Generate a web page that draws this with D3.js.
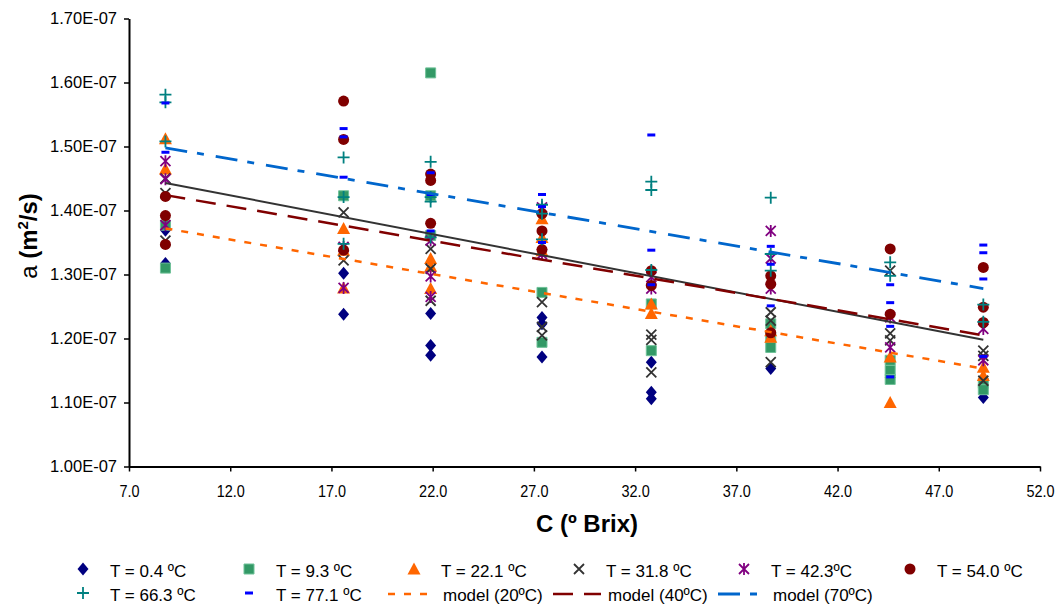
<!DOCTYPE html>
<html>
<head>
<meta charset="utf-8">
<script src="https://cdn.jsdelivr.net/npm/d3@7"></script>
<style>
  body { margin: 0; background: #fff; }
  text { font-family: "Liberation Sans", Arial, sans-serif; fill: #000; }
</style>
</head>
<body>
<div id="chart"></div>
<script>
// concentrations (ºBrix) of the measured columns
const brix = [8.8, 17.6, 21.9, 27.4, 32.8, 38.7, 44.6, 49.2];

// thermal diffusivity readings, in 1e-7 m2/s, one list per column
const t04 = [[1.369, 1.317], [1.302, 1.238], [1.239, 1.189, 1.174], [1.233, 1.223, 1.171],
  [1.163, 1.116, 1.106], [1.153], [1.139], [1.108]];
const t93 = [[1.377, 1.310], [1.423], [1.615, 1.423, 1.361], [1.272, 1.194],
  [1.254, 1.181], [1.223, 1.202, 1.186], [1.166, 1.150, 1.136], [1.130, 1.120]];
const t221 = [[1.512, 1.465], [1.372, 1.338, 1.279], [1.325, 1.313, 1.278], [1.387, 1.358, 1.337],
  [1.254, 1.239], [1.212, 1.202], [1.171, 1.100], [1.155, 1.142]];
const t318 = [[1.450, 1.427, 1.353], [1.397, 1.322], [1.340, 1.309, 1.259], [1.257, 1.218, 1.205],
  [1.206, 1.198, 1.147], [1.241, 1.228, 1.163], [1.306, 1.208, 1.197], [1.181, 1.173, 1.134]];
const t423 = [[1.477, 1.449, 1.377], [1.343, 1.279], [1.353, 1.297, 1.265], [1.405, 1.332],
  [1.296, 1.278], [1.368, 1.325, 1.278], [1.233, 1.186], [1.215, 1.166]];
const t540 = [[1.422, 1.392, 1.347], [1.571, 1.511, 1.338], [1.457, 1.447, 1.380], [1.395, 1.368, 1.339],
  [1.306, 1.283], [1.298, 1.285, 1.209], [1.340, 1.238], [1.311, 1.249, 1.225]];
const t663 = [[1.581, 1.569, 1.508], [1.483, 1.421, 1.348], [1.476, 1.421, 1.414, 1.358], [1.409, 1.395, 1.355],
  [1.445, 1.432, 1.307], [1.420, 1.332, 1.306], [1.319, 1.298], [1.253, 1.226]];
const t771 = [[1.568, 1.491], [1.528, 1.515, 1.452], [1.459, 1.425, 1.368], [1.425, 1.406, 1.350],
  [1.518, 1.338, 1.284], [1.344, 1.316, 1.251], [1.284, 1.256, 1.219, 1.140], [1.346, 1.334, 1.293, 1.172]];

// model and fit lines (end points)
const lineBrix = [8.8, 49.2];
const model20 = [1.372, 1.153];
const model40 = [1.424, 1.205];
const model70 = [1.498, 1.278];
const fitLine = [1.443, 1.198];

const xTicks = [7, 12, 17, 22, 27, 32, 37, 42, 47, 52];
const yTicks = [1.0, 1.1, 1.2, 1.3, 1.4, 1.5, 1.6, 1.7];
const yTickLabels = ["1.00E-07", "1.10E-07", "1.20E-07", "1.30E-07", "1.40E-07", "1.50E-07", "1.60E-07", "1.70E-07"];

const svg = d3.select("#chart").append("svg")
  .attr("width", 1056)
  .attr("height", 606);

const x = d3.scaleLinear().domain([7, 52]).range([129, 1040]);
const y = d3.scaleLinear().domain([1.0, 1.7]).range([466.5, 18.5]);

// marker shapes
function markerPath(kind) {
  switch (kind) {
    case "diamond": return "M0,-6.5L5.5,0L0,6.5L-5.5,0Z";
    case "square": return "M-5,-5H5V5H-5Z";
    case "triangle": return "M0,-6.5L6.5,5.5H-6.5Z";
    case "x": return "M-5,-5L5,5M5,-5L-5,5";
    case "star": return "M-5,-5L5,5M5,-5L-5,5M0,-6V6";
    case "plus": return "M-6,0H6M0,-6V6";
    case "dash": return "M-4,0H4";
  }
}

const series = [
  { name: "T = 0.4 ºC", data: t04, kind: "diamond", color: "#000080" },
  { name: "T = 9.3 ºC", data: t93, kind: "square", color: "#339966" },
  { name: "T = 22.1 ºC", data: t221, kind: "triangle", color: "#FF6600" },
  { name: "T = 31.8 ºC", data: t318, kind: "x", color: "#333333" },
  { name: "T = 42.3ºC", data: t423, kind: "star", color: "#800080" },
  { name: "T = 54.0 ºC", data: t540, kind: "circle", color: "#800000" },
  { name: "T = 66.3 ºC", data: t663, kind: "plus", color: "#008080" },
  { name: "T = 77.1 ºC", data: t771, kind: "dash", color: "#0000FF" }
];

const lines = [
  { name: "model (20ºC)", data: model20, color: "#FF6600", width: 2.5, dash: "7,9" },
  { name: "model (40ºC)", data: model40, color: "#800000", width: 2.5, dash: "20,11" },
  { name: "model (70ºC)", data: model70, color: "#0066CC", width: 2.8, dash: "22,10,7,12" }
];

function drawMarker(g, kind, color) {
  if (kind === "circle") {
    g.append("ellipse").attr("rx", 5.5).attr("ry", 5.5).attr("fill", color);
  } else if (kind === "diamond" || kind === "triangle") {
    g.append("path").attr("d", markerPath(kind)).attr("fill", color);
  } else if (kind === "square") {
    g.append("path").attr("d", markerPath(kind)).attr("fill", color)
      .attr("stroke", "#6fc198").attr("stroke-width", 1);
  } else {
    g.append("path").attr("d", markerPath(kind)).attr("fill", "none")
      .attr("stroke", color).attr("stroke-width", kind === "dash" ? 3 : 1.8);
  }
}

// axes
const yAxis = svg.append("g")
  .attr("transform", `translate(${x(7)},0)`)
  .call(d3.axisLeft(y).tickValues(yTicks).tickFormat((d, i) => yTickLabels[i])
    .tickSize(5).tickSizeOuter(0).tickPadding(7));
yAxis.selectAll("text").style("font-size", "16.5px");

const xAxis = svg.append("g")
  .attr("transform", `translate(0,${y(1.0)})`)
  .call(d3.axisBottom(x).tickValues(xTicks).tickFormat(d3.format(".1f"))
    .tickSize(5).tickSizeOuter(0).tickPadding(13));
// the reference uses a condensed face for these labels
xAxis.selectAll("text")
  .style("font-size", "17px")
  .attr("transform", "scale(0.85,1)");

svg.selectAll(".domain").attr("stroke", "#000").attr("stroke-width", 2);
svg.selectAll(".tick line").attr("stroke", "#000").attr("stroke-width", 1.5);

// points
series.forEach((s) => {
  const pts = [];
  s.data.forEach((vals, i) => vals.forEach((v) => pts.push([brix[i], v])));
  const grp = svg.append("g");
  pts.forEach((p) => {
    const m = grp.append("g").attr("transform", `translate(${x(p[0])},${y(p[1])})`);
    drawMarker(m, s.kind, s.color);
  });
});

// lines
const lineGen = d3.line().x((d) => x(d[0])).y((d) => y(d[1]));
svg.append("path")
  .attr("d", lineGen(lineBrix.map((c, i) => [c, fitLine[i]])))
  .attr("fill", "none").attr("stroke", "#333333").attr("stroke-width", 2);
lines.forEach((l) => {
  svg.append("path")
    .attr("d", lineGen(lineBrix.map((c, i) => [c, l.data[i]])))
    .attr("fill", "none").attr("stroke", l.color)
    .attr("stroke-width", l.width).attr("stroke-dasharray", l.dash);
});

// axis titles
svg.append("text")
  .attr("x", 587).attr("y", 532)
  .attr("text-anchor", "middle")
  .style("font-size", "24px").style("font-weight", "bold")
  .text("C (º Brix)");

const yTitle = svg.append("text")
  .attr("transform", "translate(37,236) rotate(-90)")
  .attr("text-anchor", "middle")
  .style("font-size", "24px");
yTitle.append("tspan").text("a ");
yTitle.append("tspan").style("font-weight", "bold").text("(m");
yTitle.append("tspan").style("font-weight", "bold").style("font-size", "15px")
  .attr("dy", -9).text("2");
yTitle.append("tspan").style("font-weight", "bold").attr("dy", 9).text("/s)");

// legend
const legendCols = [83, 249, 414, 579, 744, 910];
const legendRows = [570, 594];
const legend = svg.append("g");
series.forEach((s, i) => {
  const col = i < 6 ? i : i - 6;
  const row = i < 6 ? 0 : 1;
  const m = legend.append("g").attr("transform", `translate(${legendCols[col]},${legendRows[row] - 1})`);
  drawMarker(m, s.kind, s.color);
  legend.append("text")
    .attr("x", legendCols[col] + 27).attr("y", legendRows[row] + 7)
    .style("font-size", "17px").text(s.name);
});
lines.forEach((l, j) => {
  const col = j + 2;
  legend.append("line")
    .attr("x1", legendCols[col] - 26).attr("x2", legendCols[col] + 22)
    .attr("y1", legendRows[1]).attr("y2", legendRows[1])
    .attr("stroke", l.color).attr("stroke-width", l.width).attr("stroke-dasharray", l.dash);
  legend.append("text")
    .attr("x", legendCols[col] + 29).attr("y", legendRows[1] + 7)
    .style("font-size", "17px").text(l.name);
});
</script>
</body>
</html>
